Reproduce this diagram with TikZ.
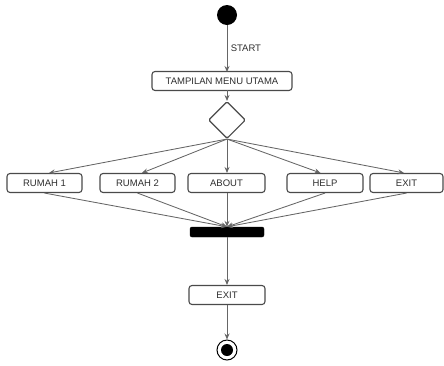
\documentclass[tikz,border=0pt]{standalone}
\usepackage{fontspec}
\setmainfont{Liberation Sans}
\usetikzlibrary{shapes.geometric,arrows.meta}
\definecolor{edge}{HTML}{666666}
\definecolor{boxline}{HTML}{4A4A4A}
\definecolor{txt}{HTML}{2E2E2E}
\begin{document}
\begin{tikzpicture}[x=1pt,y=-1pt,
  actbox/.style={draw=boxline,line width=1.1pt,rounded corners=3pt,fill=white,
    minimum height=19pt,inner sep=0pt,font=\fontsize{9.5}{10}\selectfont,text=txt},
  conn/.style={draw=edge,line width=0.85pt,-{Stealth[length=6pt,width=5pt]}},
  ]
\useasboundingbox (0,0) rectangle (444,365);
\node[circle,fill=black,minimum size=20pt,inner sep=0pt] (start) at (227,15) {};
\node[actbox,minimum width=140pt] (menu) at (222,81) {TAMPILAN MENU UTAMA};
\node[diamond,draw=boxline,line width=1.1pt,rounded corners=1.5pt,fill=white,aspect=1,minimum size=37pt,inner sep=0pt] (dec) at (227,120) {};
\node[actbox,minimum width=75pt] (r1) at (44.5,183) {RUMAH 1};
\node[actbox,minimum width=75pt] (r2) at (137.5,183) {RUMAH 2};
\node[actbox,minimum width=77pt] (about) at (226.5,183) {ABOUT};
\node[actbox,minimum width=76pt] (help) at (325,183) {HELP};
\node[actbox,minimum width=73pt] (exita) at (406.5,183) {EXIT};
\node[draw=black,fill=black,rounded corners=2pt,minimum width=74pt,minimum height=10pt,inner sep=0pt] (bar) at (227,232) {};
\node[actbox,minimum width=76pt] (exitb) at (227,295) {EXIT};
\node[circle,draw=black,line width=1pt,minimum size=20pt,inner sep=0pt] (end) at (227,350) {};
\node[circle,fill=black,minimum size=12pt,inner sep=0pt] (endin) at (end) {};
\coordinate (mtop) at (227,72);
\coordinate (mbot) at (227,90);
\draw[conn] (start) -- node[right,xshift=0pt,font=\fontsize{9.5}{10}\selectfont,text=txt]{START} (mtop);
\draw[conn] (mbot) -- (dec.north);
\draw[conn] (dec.south) -- ([xshift=4.5pt]r1.north);
\draw[conn] (dec.south) -- ([xshift=4.5pt]r2.north);
\draw[conn] (dec.south) -- ([xshift=0.5pt]about.north);
\draw[conn] (dec.south) -- ([xshift=-4.5pt]help.north);
\draw[conn] (dec.south) -- ([xshift=-2.5pt]exita.north);
\draw[conn] (r1.south) -- (bar.north);
\draw[conn] (r2.south) -- (bar.north);
\draw[conn] ([xshift=0.5pt]about.south) -- (bar.north);
\draw[conn] (help.south) -- (bar.north);
\draw[conn] (exita.south) -- (bar.north);
\draw[conn] (bar.south) -- (exitb.north);
\draw[conn] (exitb.south) -- (end.north);
\end{tikzpicture}
\end{document}
